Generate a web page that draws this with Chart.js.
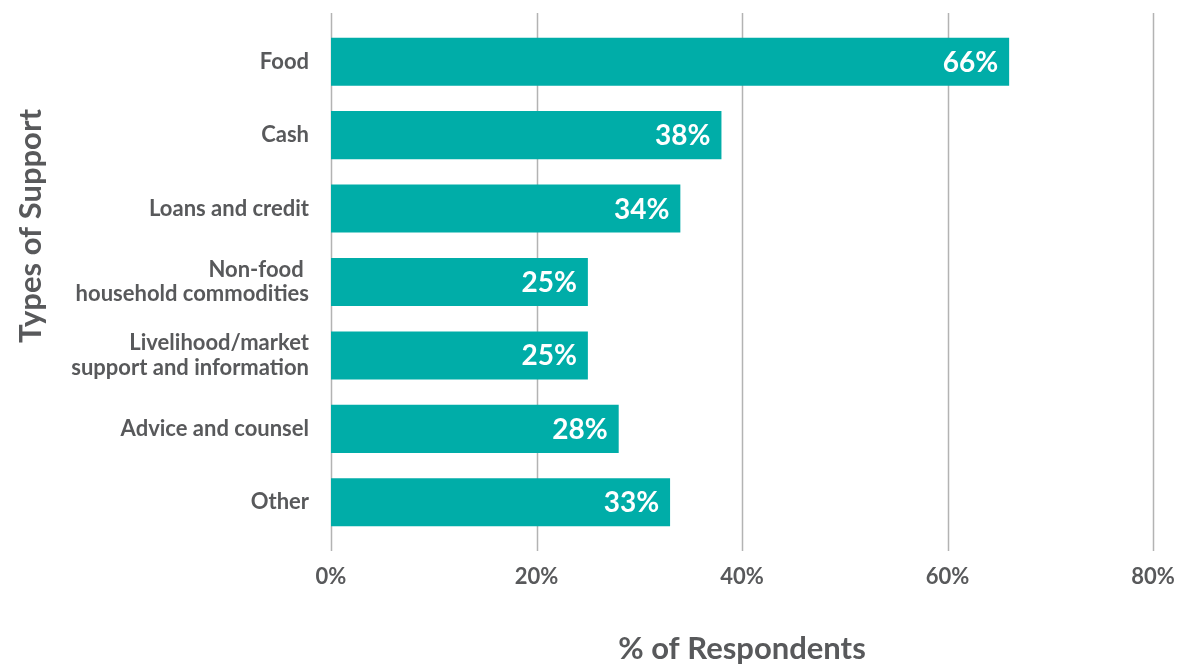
<!DOCTYPE html>
<html>
<head>
<meta charset="utf-8">
<title>Types of Support</title>
<script src="https://cdn.jsdelivr.net/npm/chart.js@4.4.1/dist/chart.umd.min.js"></script>
<style>
  html, body { margin: 0; padding: 0; background: #fff; }
  #wrap { width: 1187px; height: 664px; position: relative; }
</style>
</head>
<body>
<div id="wrap"><canvas id="supportChart"></canvas></div>
<script>
const categories = [
  "Food",
  "Cash",
  "Loans and credit",
  ["Non-food ", "household commodities"],
  ["Livelihood/market", "support and information"],
  "Advice and counsel",
  "Other"
];
const respondents = [66, 38, 34, 25, 25, 28, 33];
const xTicks = [0, 20, 40, 60, 80];

const TEAL = "#00ADA8";
const INK = "#58595B";
const FONT = "Lato, 'Open Sans', sans-serif";

// grid lines run a little past the plot at both ends
const gridPlugin = {
  id: "gridLines",
  beforeDatasetsDraw(chart) {
    const { ctx, chartArea, scales } = chart;
    ctx.save();
    ctx.strokeStyle = "#b3b3b3";
    ctx.lineWidth = 1.5;
    xTicks.forEach((t) => {
      const x = Math.round(scales.x.getPixelForValue(t)) + 0.5;
      ctx.beginPath();
      ctx.moveTo(x, chartArea.top - 12);
      ctx.lineTo(x, chartArea.bottom + 12);
      ctx.stroke();
    });
    ctx.restore();
  }
};

// percentage inside the end of each bar
const valueLabels = {
  id: "valueLabels",
  afterDatasetsDraw(chart) {
    const { ctx } = chart;
    const meta = chart.getDatasetMeta(0);
    ctx.save();
    ctx.fillStyle = "#fff";
    ctx.font = "bold 28px " + FONT;
    ctx.textAlign = "right";
    ctx.textBaseline = "middle";
    meta.data.forEach((bar, i) => {
      ctx.fillText(respondents[i] + "%", bar.x - 11, bar.y + 1);
    });
    ctx.restore();
  }
};

// rotated y title
const yTitle = {
  id: "yTitle",
  afterDraw(chart) {
    const { ctx } = chart;
    ctx.save();
    ctx.translate(31, 226);
    ctx.rotate(-Math.PI / 2);
    ctx.fillStyle = INK;
    ctx.font = "bold 31px " + FONT;
    ctx.textAlign = "center";
    ctx.textBaseline = "middle";
    ctx.fillText("Types of Support", 0, 0);
    ctx.restore();
  }
};

new Chart(document.getElementById("supportChart"), {
  type: "bar",
  data: {
    labels: categories,
    datasets: [{
      data: respondents,
      backgroundColor: TEAL,
      borderWidth: 0,
      categoryPercentage: 1,
      barPercentage: 0.655
    }]
  },
  options: {
    indexAxis: "y",
    responsive: true,
    maintainAspectRatio: false,
    animation: false,
    layout: { padding: { top: 25, right: 34, left: 0, bottom: 0 } },
    plugins: { legend: { display: false }, tooltip: { enabled: false } },
    scales: {
      x: {
        min: 0,
        max: 80,
        afterFit(scale) {
          scale.height = 125;
          scale.paddingLeft = 0;
          scale.paddingRight = 0;
        },
        afterBuildTicks(scale) { scale.ticks = xTicks.map((v) => ({ value: v })); },
        border: { display: false },
        grid: { display: false, drawTicks: false },
        ticks: {
          padding: 25,
          color: INK,
          font: { family: FONT, size: 22, weight: "bold" },
          callback: (v) => v + "%"
        },
        title: {
          display: true,
          text: "% of Respondents",
          color: INK,
          font: { family: FONT, size: 31, weight: "bold", lineHeight: 1.0 },
          padding: { top: 0, bottom: 0 }
        }
      },
      y: {
        afterFit(scale) {
          scale.width = 331;
          scale.paddingTop = 0;
          scale.paddingBottom = 0;
        },
        border: { display: false },
        grid: { display: false, drawTicks: false },
        ticks: {
          padding: 22,
          color: INK,
          font: { family: FONT, size: 22, weight: "bold", lineHeight: 1.1 }
        }
      }
    }
  },
  plugins: [gridPlugin, valueLabels, yTitle]
});
</script>
</body>
</html>
